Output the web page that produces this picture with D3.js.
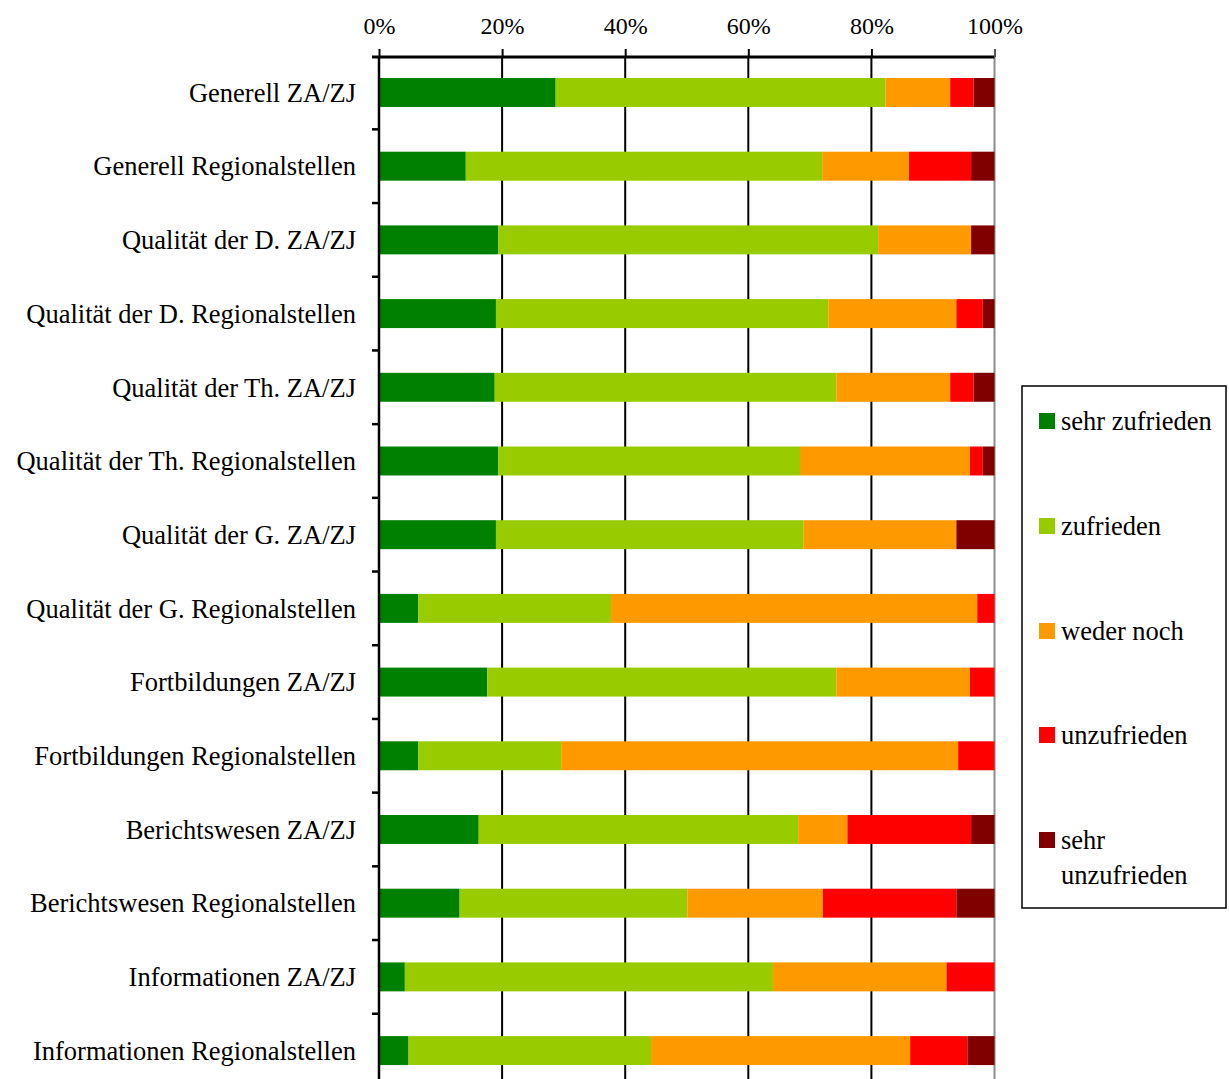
<!DOCTYPE html>
<html>
<head>
<meta charset="utf-8">
<script src="https://cdn.jsdelivr.net/npm/d3@7"></script>
<style>
  html, body { margin: 0; padding: 0; background: #fff; overflow: hidden; }
  svg { display: block; }
  text { font-family: "Liberation Serif", "DejaVu Serif", serif; fill: #000; }
</style>
</head>
<body>
<svg id="chart" width="1229" height="1079"></svg>
<script>
// Survey categories, top to bottom
const categories = [
  "Generell ZA/ZJ",
  "Generell Regionalstellen",
  "Qualität der D. ZA/ZJ",
  "Qualität der D. Regionalstellen",
  "Qualität der Th. ZA/ZJ",
  "Qualität der Th. Regionalstellen",
  "Qualität der G. ZA/ZJ",
  "Qualität der G. Regionalstellen",
  "Fortbildungen ZA/ZJ",
  "Fortbildungen Regionalstellen",
  "Berichtswesen ZA/ZJ",
  "Berichtswesen Regionalstellen",
  "Informationen ZA/ZJ",
  "Informationen Regionalstellen"
];

// Share of answers per category (percent)
const sehrZufrieden   = [28.7, 14.1, 19.4, 19.0, 18.8, 19.4, 19.0,  6.4, 17.6,  6.4, 16.2, 13.1,  4.2,  4.8];
const zufrieden       = [53.6, 57.9, 61.7, 54.0, 55.5, 49.0, 50.0, 31.3, 56.7, 23.2, 51.9, 37.0, 59.8, 39.4];
const wederNoch       = [10.5, 14.1, 15.1, 20.8, 18.5, 27.6, 24.8, 59.5, 21.7, 64.5,  8.0, 22.0, 28.2, 42.1];
const unzufrieden     = [ 3.8, 10.1,  0.0,  4.3,  3.8,  2.1,  0.0,  2.8,  4.0,  5.9, 20.1, 21.7,  7.8,  9.3];
const sehrUnzufrieden = [ 3.4,  3.8,  3.8,  1.9,  3.4,  1.9,  6.2,  0.0,  0.0,  0.0,  3.8,  6.2,  0.0,  4.4];

const seriesNames  = ["sehr zufrieden", "zufrieden", "weder noch", "unzufrieden", "sehr unzufrieden"];
const seriesColors = ["#008000", "#99CC00", "#FF9900", "#FF0000", "#800000"];
const tickValues   = [0, 20, 40, 60, 80, 100];
const tickLabels   = ["0%", "20%", "40%", "60%", "80%", "100%"];

const svg = d3.select("#chart");

const step = 73.7, padIn = 0.607, padOut = 0.285;
const plot = { left: 379, right: 994.5, top: 57 };
plot.bottom = plot.top + step * (categories.length - padIn + 2 * padOut);
const gridBottom = plot.top + step * categories.length + 10;

const x = d3.scaleLinear().domain([0, 100]).range([plot.left, plot.right]);
const y = d3.scaleBand()
  .domain(categories)
  .range([plot.top, plot.bottom])
  .paddingInner(padIn)
  .paddingOuter(padOut);

// Rows for the stack layout
const keys = ["sz", "z", "wn", "uz", "suz"];
const rows = categories.map((c, i) => ({
  cat: c,
  sz: sehrZufrieden[i],
  z: zufrieden[i],
  wn: wederNoch[i],
  uz: unzufrieden[i],
  suz: sehrUnzufrieden[i]
}));
const stacked = d3.stack().keys(keys)(rows);

// Vertical gridlines (20% .. 80%), the 100% edge in grey
svg.append("g")
  .selectAll("line")
  .data(tickValues.slice(1))
  .join("line")
  .attr("x1", d => x(d)).attr("x2", d => x(d))
  .attr("y1", plot.top).attr("y2", gridBottom)
  .attr("stroke", d => d === 100 ? "#8c8c8c" : "#000")
  .attr("stroke-width", 2);

// Stacked bars
svg.append("g")
  .selectAll("g")
  .data(stacked)
  .join("g")
  .attr("fill", (d, i) => seriesColors[i])
  .selectAll("rect")
  .data(d => d)
  .join("rect")
  .attr("x", d => x(d[0]))
  .attr("width", d => Math.max(0, x(d[1]) - x(d[0])))
  .attr("y", d => y(d.data.cat))
  .attr("height", y.bandwidth());

// Top percentage axis
const xAxis = d3.axisTop(x)
  .tickValues(tickValues)
  .tickFormat((d, i) => tickLabels[i])
  .tickSize(8)
  .tickSizeOuter(0)
  .tickPadding(15);
const gx = svg.append("g")
  .attr("transform", `translate(0,${plot.top})`)
  .call(xAxis);
gx.select(".domain").attr("stroke", "#000").attr("stroke-width", 3)
  .attr("d", `M${plot.left - 7},0H${plot.right}`);
gx.selectAll(".tick line")
  .attr("stroke", (d) => d === 100 ? "#555" : "#000")
  .attr("stroke-width", 2);
gx.selectAll(".tick text")
  .style("font-family", "'Liberation Serif', serif")
  .style("font-size", "24px")
  .attr("fill", "#000");

// Left category axis, ticks between bands
const gy = svg.append("g");
gy.append("line")
  .attr("x1", plot.left).attr("x2", plot.left)
  .attr("y1", plot.top).attr("y2", gridBottom)
  .attr("stroke", "#000").attr("stroke-width", 2.5);
gy.selectAll("line.sep")
  .data(categories.slice(1))
  .join("line")
  .attr("class", "sep")
  .attr("x1", plot.left - 7).attr("x2", plot.left)
  .attr("y1", d => y(d) - y.step() * y.paddingInner() / 2)
  .attr("y2", d => y(d) - y.step() * y.paddingInner() / 2)
  .attr("stroke", "#000").attr("stroke-width", 2.5);
gy.selectAll("text")
  .data(categories)
  .join("text")
  .attr("x", plot.left - 23)
  .attr("y", d => y(d) + y.bandwidth() / 2)
  .attr("dy", "0.35em")
  .attr("text-anchor", "end")
  .style("font-size", "26.5px")
  .text(d => d);

// Legend
const legend = svg.append("g");
legend.append("rect")
  .attr("x", 1022).attr("y", 386)
  .attr("width", 204).attr("height", 522)
  .attr("fill", "#fff").attr("stroke", "#000").attr("stroke-width", 1.5);
const entryY = [421, 526, 631, 735, 840];
const entries = legend.selectAll("g.entry")
  .data(seriesNames)
  .join("g")
  .attr("class", "entry")
  .attr("transform", (d, i) => `translate(1039,${entryY[i]})`);
entries.append("rect")
  .attr("x", 0).attr("y", -8)
  .attr("width", 16).attr("height", 16)
  .attr("fill", (d, i) => seriesColors[i]);
entries.append("text")
  .style("font-size", "26.5px")
  .each(function (d) {
    const words = d === "sehr unzufrieden" ? ["sehr", "unzufrieden"] : [d];
    d3.select(this).selectAll("tspan")
      .data(words)
      .join("tspan")
      .attr("x", 22)
      .attr("dy", (w, j) => j === 0 ? "0.35em" : "1.32em")
      .text(w => w);
  });
</script>
</body>
</html>
